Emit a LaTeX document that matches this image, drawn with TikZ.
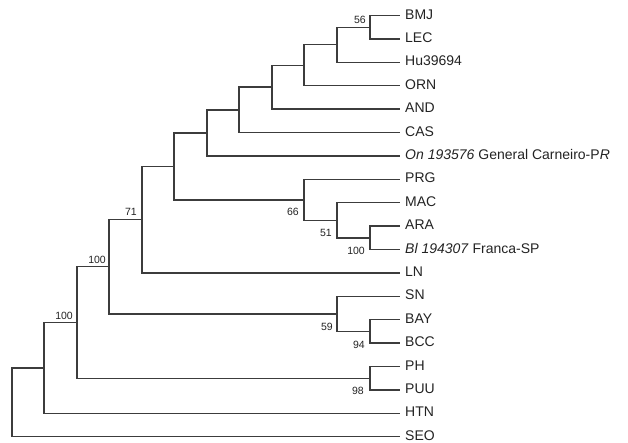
\documentclass[tikz,border=0pt]{standalone}
\usepackage{fontspec}
\setmainfont{Liberation Sans}
\definecolor{treeline}{RGB}{60,60,60}
\definecolor{treetext}{RGB}{35,35,35}
\begin{document}
\begin{tikzpicture}[x=1pt,y=-1pt,
  branch/.style={draw=treeline,line width=1.4pt},
  leaf/.style={anchor=west,inner xsep=5pt,inner ysep=0pt,font=\fontsize{14}{15}\selectfont,text=treetext,text height=0.716em,text depth=0pt},
  boot/.style={inner sep=0pt,font=\fontsize{10.5}{11}\selectfont,text=treetext}]
\useasboundingbox (0,0) rectangle (628,442);
% leaves
\node[leaf] (BMJ) at (400,15.5) {BMJ};
\node[leaf] (LEC) at (400,38.9) {LEC};
\node[leaf] (HU) at (400,62.3) {Hu39694};
\node[leaf] (ORN) at (400,85.7) {ORN};
\node[leaf] (AND) at (400,109.1) {AND};
\node[leaf] (CAS) at (400,132.5) {CAS};
\node[leaf] (ON) at (400,155.9) {\itshape On 193576\upshape{} General Carneiro-P\textit{R}};
\node[leaf] (PRG) at (400,179.3) {PRG};
\node[leaf] (MAC) at (400,202.7) {MAC};
\node[leaf] (ARA) at (400,226.1) {ARA};
\node[leaf] (BL) at (400,249.5) {\textit{Bl 194307} Franca-SP};
\node[leaf] (LN) at (400,272.9) {LN};
\node[leaf] (SN) at (400,296.3) {SN};
\node[leaf] (BAY) at (400,319.7) {BAY};
\node[leaf] (BCC) at (400,343.1) {BCC};
\node[leaf] (PH) at (400,366.5) {PH};
\node[leaf] (PUU) at (400,389.9) {PUU};
\node[leaf] (HTN) at (400,413.3) {HTN};
\node[leaf] (SEO) at (400,436.7) {SEO};
% internal nodes
\coordinate (n11) at (370,27.2);
\coordinate (n10) at (337,44.75);
\coordinate (n9) at (304,65.2);
\coordinate (n8) at (272,87.15);
\coordinate (n7) at (239,109.8);
\coordinate (n6) at (207,132.9);
\coordinate (n13) at (370,237.8);
\coordinate (n12) at (337,220.25);
\coordinate (n15) at (304,199.8);
\coordinate (n5) at (174,166.3);
\coordinate (n4) at (142,219.6);
\coordinate (n14) at (370,331.4);
\coordinate (n16) at (337,313.85);
\coordinate (n3) at (109,266.7);
\coordinate (nph) at (370,378.2);
\coordinate (n2) at (77,322.45);
\coordinate (n1) at (44,367.9);
\coordinate (root) at (12,402.3);
% branches
\path[branch] (n11) |- (BMJ.west) (n11) |- (LEC.west);
\path[branch] (n10) |- (n11) (n10) |- (HU.west);
\path[branch] (n9) |- (n10) (n9) |- (ORN.west);
\path[branch] (n8) |- (n9) (n8) |- (AND.west);
\path[branch] (n7) |- (n8) (n7) |- (CAS.west);
\path[branch] (n6) |- (n7) (n6) |- (ON.west);
\path[branch] (n13) |- (ARA.west) (n13) |- (BL.west);
\path[branch] (n12) |- (MAC.west) (n12) |- (n13);
\path[branch] (n15) |- (PRG.west) (n15) |- (n12);
\path[branch] (n5) |- (n6) (n5) |- (n15);
\path[branch] (n4) |- (n5) (n4) |- (LN.west);
\path[branch] (n14) |- (BAY.west) (n14) |- (BCC.west);
\path[branch] (n16) |- (SN.west) (n16) |- (n14);
\path[branch] (n3) |- (n4) (n3) |- (n16);
\path[branch] (nph) |- (PH.west) (nph) |- (PUU.west);
\path[branch] (n2) |- (n3) (n2) |- (nph);
\path[branch] (n1) |- (n2) (n1) |- (HTN.west);
\path[branch] (root) |- (n1) (root) |- (SEO.west);
% bootstrap values
\node[boot,anchor=east] (b56) at (366,20) {56};
\node[boot,anchor=east] (b66) at (299,212) {66};
\node[boot,anchor=east] (b51) at (332,233) {51};
\node[boot,anchor=east] (b100a) at (365,251) {100};
\node[boot,anchor=east] (b59) at (333,327) {59};
\node[boot,anchor=east] (b94) at (365,345) {94};
\node[boot,anchor=east] (b98) at (364,391) {98};
\node[boot,anchor=east] (b71) at (137,212) {71};
\node[boot,anchor=east] (b100b) at (106,260) {100};
\node[boot,anchor=east] (b100c) at (73,316) {100};
\end{tikzpicture}
\end{document}
